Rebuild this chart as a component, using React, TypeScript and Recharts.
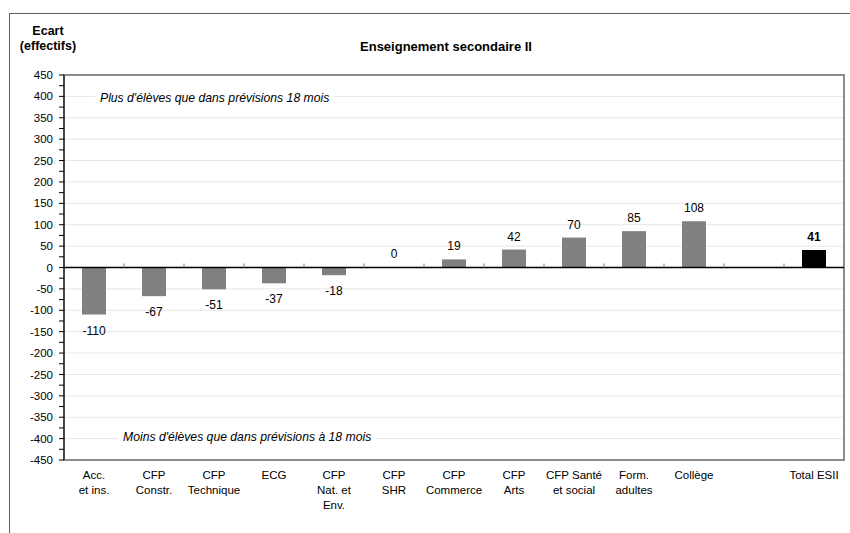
import React from "react"
import { Bar, BarChart, CartesianGrid, LabelList, ReferenceArea, ReferenceLine, XAxis, YAxis } from "recharts"

// categories (line breaks as in the original axis)
const categories = [
  "Acc.\net ins.",
  "CFP\nConstr.",
  "CFP\nTechnique",
  "ECG",
  "CFP\nNat. et\nEnv.",
  "CFP\nSHR",
  "CFP\nCommerce",
  "CFP\nArts",
  "CFP Santé\net social",
  "Form.\nadultes",
  "Collège",
  "",
  "Total ESII",
]

// gap vs 18-month forecast
const ecart = [-110, -67, -51, -37, -18, 0, 19, 42, 70, 85, 108, null, 41]

const yTicks = [
  -450, -425, -400, -375, -350, -325, -300, -275, -250, -225, -200, -175, -150, -125, -100, -75, -50, -25, 0,
  25, 50, 75, 100, 125, 150, 175, 200, 225, 250, 275, 300, 325, 350, 375, 400, 425, 450,
]
const gridValues = [-400, -350, -300, -250, -200, -150, -100, -50, 50, 100, 150, 200, 250, 300, 350, 400]

const TOTAL = "Total ESII"
const data = categories.map((c, i) => ({
  name: c,
  value: c === TOTAL ? null : ecart[i],
  total: c === TOTAL ? ecart[i] : null,
}))

const FONT = "'Liberation Sans', Arial, Helvetica, sans-serif"
const PLOT_TOP = 75
const PLOT_H = 385
const ZERO_Y = PLOT_TOP + PLOT_H / 2
const BAND = 60

function CategoryTick(props: any) {
  const { x, y, payload, index } = props
  const lines = String(payload.value).split("\n")
  return (
    <g>
      {index > 0 && (
        <line x1={x - BAND / 2} x2={x - BAND / 2} y1={ZERO_Y - 4} y2={ZERO_Y} stroke="#808080" />
      )}
      <text x={x} y={y + 19} textAnchor="middle" fontSize={11.5} fontFamily={FONT} fill="#000">
        {lines.map((l, i) => (
          <tspan key={i} x={x} dy={i === 0 ? 0 : 15}>
            {l}
          </tspan>
        ))}
      </text>
    </g>
  )
}

function ValueLabel(props: any) {
  const { x, y, width, height, value, bold } = props
  if (value === null || value === undefined) return null
  const h = height || 0
  const top = Math.min(y, y + h)
  const bottom = Math.max(y, y + h)
  const cy = value >= 0 ? top - 13 : bottom + 16
  return (
    <text
      x={x + width / 2}
      y={cy + 4}
      textAnchor="middle"
      fontSize={12}
      fontFamily={FONT}
      fontWeight={bold ? "bold" : "normal"}
      fill="#000"
    >
      {value}
    </text>
  )
}

const note: React.CSSProperties = {
  position: "absolute",
  background: "#fff",
  fontStyle: "italic",
  fontSize: 12.2,
  lineHeight: "14px",
  padding: "0 5px",
  whiteSpace: "nowrap",
}

export default function App() {
  return (
    <div style={{ position: "absolute", left: 0, top: 0, width: 850, height: 533, overflow: "hidden", background: "#fff", fontFamily: FONT }}>
      <div style={{ position: "absolute", left: 9, top: 13, width: 900, height: 600, border: "1px solid #606060" }} />
      <BarChart
        width={850}
        height={533}
        data={data}
        margin={{ top: PLOT_TOP, right: 6, bottom: 13, left: 9 }}
        barSize={24}
      >
        <CartesianGrid vertical={false} horizontalValues={gridValues} stroke="#e6e6e6" />
        <ReferenceArea y1={-450} y2={450} fill="none" stroke="#8c8c8c" strokeWidth={2} ifOverflow="visible" />
        <XAxis
          dataKey="name"
          axisLine={false}
          tickLine={false}
          tickSize={0}
          tickMargin={0}
          interval={0}
          height={60}
          tick={<CategoryTick />}
        />
        <YAxis
          type="number"
          domain={[-450, 450]}
          ticks={yTicks}
          interval={0}
          width={55}
          tickSize={5}
          tickMargin={6}
          axisLine={{ stroke: "#000" }}
          tickLine={{ stroke: "#000" }}
          tick={{ fontSize: 11.5, fill: "#000", fontFamily: FONT }}
          tickFormatter={(v: number) => (v % 50 === 0 ? String(v) : "")}
        />
        <Bar
          dataKey="value"
          stackId="a"
          fill="#808080"
          isAnimationActive={false}
          minPointSize={(v: number) => (v === 0 ? 0.01 : 0)}
        >
          <LabelList dataKey="value" content={<ValueLabel />} />
        </Bar>
        <Bar dataKey="total" stackId="a" fill="#000000" isAnimationActive={false}>
          <LabelList dataKey="total" content={<ValueLabel bold />} />
        </Bar>
        <ReferenceLine y={0} stroke="#000" strokeWidth={1.5} />
      </BarChart>

      <div style={{ position: "absolute", left: 16, top: 24, width: 64, textAlign: "center", fontWeight: "bold", fontSize: 12.5, lineHeight: "15px" }}>
        Ecart
        <br />
        (effectifs)
      </div>
      <div style={{ position: "absolute", left: 296, top: 39, width: 300, textAlign: "center", fontWeight: "bold", fontSize: 13 }}>
        Enseignement secondaire II
      </div>
      <div style={{ ...note, left: 95, top: 91 }}>Plus d'élèves que dans prévisions 18 mois</div>
      <div style={{ ...note, left: 118, top: 430 }}>Moins d'élèves que dans prévisions à 18 mois</div>
    </div>
  )
}
